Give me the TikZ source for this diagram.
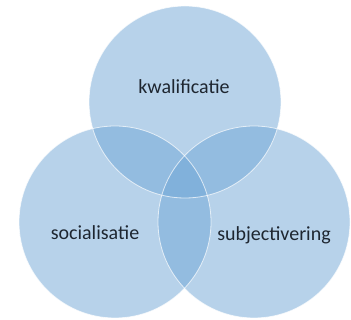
\documentclass[tikz,border=0pt]{standalone}
\usepackage{fontspec}
\setmainfont{Carlito}
\definecolor{vennblue}{RGB}{113,167,215}
\definecolor{labeltext}{RGB}{30,38,48}
\tikzset{
  venn/.style={circle, minimum size=192pt, inner sep=0pt, fill=vennblue, fill opacity=0.5},
  vennedge/.style={draw=white, draw opacity=0.7, line width=0.8pt},
  label/.style={text=labeltext, font=\fontsize{20}{24}\selectfont, inner sep=0pt}
}
\begin{document}
\begin{tikzpicture}[x=1pt,y=-1pt]
\useasboundingbox (0,0) rectangle (351,320);
\fill[white] (0,0) rectangle (351,320);
\node[venn] (top) at (185,102) {};
\node[venn] (left) at (115,222) {};
\node[venn] (right) at (254,222) {};
\draw[vennedge] (top.center) circle (96pt);
\draw[vennedge] (left.center) circle (96pt);
\draw[vennedge] (right.center) circle (96pt);
\node[label] (tk) at (184,87) {kwalificatie};
\node[label] (ts) at (95,233) {socialisatie};
\node[label] (tr) at (274,235) {subjectivering};
\end{tikzpicture}
\end{document}
